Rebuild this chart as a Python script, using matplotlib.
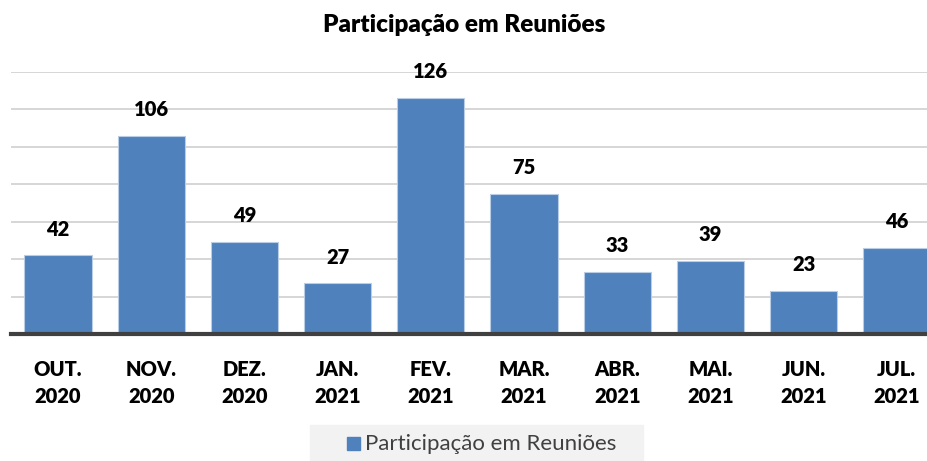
import matplotlib.pyplot as plt
from matplotlib.patches import Rectangle

# dados
meses = ['OUT.\n2020', 'NOV.\n2020', 'DEZ.\n2020', 'JAN.\n2021', 'FEV.\n2021',
         'MAR.\n2021', 'ABR.\n2021', 'MAI.\n2021', 'JUN.\n2021', 'JUL.\n2021']
participacao = [42, 106, 49, 27, 126, 75, 33, 39, 23, 46]
serie = 'Participação em Reuniões'

plt.rcParams['font.family'] = ['Lato', 'DejaVu Sans']

fig = plt.figure(figsize=(9.28, 4.61), dpi=100)
ax = fig.add_axes([11.4 / 928, 1 - 334 / 461, 932 / 928, 262 / 461])

x = range(len(meses))
bars = ax.bar(x, participacao, width=0.72, color='#4f81bd', edgecolor='#b9cde5',
              linewidth=0.8, zorder=3)

for xi, v in zip(x, participacao):
    ax.annotate(str(v), xy=(xi, v), xytext=(0, 19), textcoords='offset points',
                ha='center', va='center', fontsize=14.5, fontweight='heavy', color='black')

ax.set_xlim(-0.5, len(meses) - 0.5)
ax.set_ylim(0, 140)
ax.set_yticks(range(0, 141, 20))
ax.yaxis.grid(True, color='#d0d0d0', linewidth=1.2, zorder=0)
ax.set_yticklabels([])
ax.tick_params(axis='y', length=0)
ax.set_xticks(list(x))
ax.set_xticklabels(meses, fontsize=14.5, fontweight='heavy', linespacing=1.45)
ax.tick_params(axis='x', length=0, pad=19)
for s in ['top', 'right', 'left']:
    ax.spines[s].set_visible(False)
ax.spines['bottom'].set_color('#404040')
ax.spines['bottom'].set_linewidth(3)
ax.spines['bottom'].set_zorder(4)

fig.text(0.5, 1 - 25 / 461, serie, ha='center', va='center',
         fontsize=17.5, fontweight='heavy')

# legenda com fundo cinza
fig.patches.append(Rectangle((310 / 928, 0), 333 / 928, 36 / 461,
                             transform=fig.transFigure, color='#f2f2f2', zorder=0))
fig.patches.append(Rectangle((347 / 928, 1 - 450 / 461), 13 / 928, 13 / 461,
                             transform=fig.transFigure, color='#4f81bd', zorder=1))
fig.text(365 / 928, 1 - 444 / 461, serie, ha='left', va='center',
         fontsize=16, color='#404040')

fig.savefig('out.png', dpi=100)
